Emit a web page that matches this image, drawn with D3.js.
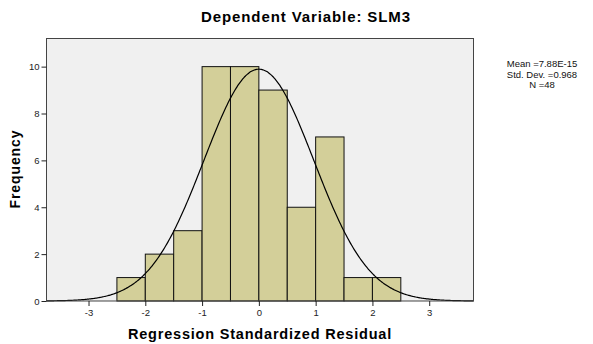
<!DOCTYPE html>
<html>
<head>
<meta charset="utf-8">
<script src="https://cdn.jsdelivr.net/npm/d3@7"></script>
<style>
  body { margin: 0; background: #fff; }
  text { font-family: "Liberation Sans", Arial, sans-serif; }
</style>
</head>
<body>
<div id="chart"></div>
<script>
// histogram bins (lower edge) and counts
var binStarts = [-2.5, -2, -1.5, -1, -0.5, 0, 0.5, 1, 1.5, 2];
var binWidth = 0.5;
var counts = [1, 2, 3, 10, 10, 9, 4, 7, 1, 1];
var xTicks = [-3, -2, -1, 0, 1, 2, 3];
var yTicks = [0, 2, 4, 6, 8, 10];
var statsLines = ["Mean =7.88E-15", "Std. Dev. =0.968", "N =48"];
var mean = 0, sd = 0.968, n = 48;

var W = 593, H = 344;
var plot = {left: 46.5, top: 38.5, right: 473.5, bottom: 301};

var svg = d3.select("#chart").append("svg")
    .attr("width", W)
    .attr("height", H);

var x = d3.scaleLinear().domain([-3.74, 3.78]).range([plot.left, plot.right]);
var y = d3.scaleLinear().domain([0, 11.2]).range([plot.bottom, plot.top]);

// plot background
svg.append("rect")
    .attr("x", plot.left).attr("y", plot.top)
    .attr("width", plot.right - plot.left)
    .attr("height", plot.bottom - plot.top)
    .style("fill", "#f0f0f0");

// bars
svg.selectAll("rect.bar")
    .data(counts)
    .enter().append("rect")
    .attr("class", "bar")
    .attr("x", function (d, i) { return x(binStarts[i]); })
    .attr("width", function (d, i) { return x(binStarts[i] + binWidth) - x(binStarts[i]); })
    .attr("y", function (d) { return y(d); })
    .attr("height", function (d) { return y(0) - y(d); })
    .style("fill", "#d3cf99")
    .style("stroke", "#111")
    .style("stroke-width", 1);

// normal curve from the stated mean / sd / N
var curvePts = d3.range(x.domain()[0], x.domain()[1] + 0.001, 0.02);
var line = d3.line()
    .x(function (d) { return x(d); })
    .y(function (d) {
        var z = (d - mean) / sd;
        return y(n * binWidth * Math.exp(-0.5 * z * z) / (sd * Math.sqrt(2 * Math.PI)));
    })
    .curve(d3.curveBasis);

svg.append("path")
    .datum(curvePts)
    .attr("d", line)
    .style("fill", "none")
    .style("stroke", "#000")
    .style("stroke-width", 1.2);

// frame
svg.append("rect")
    .attr("x", plot.left).attr("y", plot.top)
    .attr("width", plot.right - plot.left)
    .attr("height", plot.bottom - plot.top)
    .style("fill", "none")
    .style("stroke", "#444")
    .style("stroke-width", 1);

// axes (plain hyphen for negatives, like the original)
var xAxis = svg.append("g")
    .attr("transform", "translate(0," + plot.bottom + ")")
    .call(d3.axisBottom(x).tickValues(xTicks).tickSize(5).tickPadding(3)
        .tickFormat(function (d) { return String(d); }));
var yAxis = svg.append("g")
    .attr("transform", "translate(" + plot.left + ",0)")
    .call(d3.axisLeft(y).tickValues(yTicks).tickSize(5).tickPadding(2));

[xAxis, yAxis].forEach(function (g) {
    g.select(".domain").remove();
    g.selectAll(".tick line").style("stroke", "#222");
    g.selectAll(".tick text")
        .style("font-family", "'Liberation Sans', Arial, sans-serif")
        .style("font-size", "9.5px")
        .style("fill", "#222");
});

// title
svg.append("text")
    .attr("x", 306).attr("y", 22)
    .attr("text-anchor", "middle")
    .style("font-size", "15px")
    .style("letter-spacing", "0.9px")
    .style("font-weight", "bold")
    .text("Dependent Variable: SLM3");

// axis titles
svg.append("text")
    .attr("x", 260).attr("y", 339)
    .attr("text-anchor", "middle")
    .style("font-size", "14.5px")
    .style("letter-spacing", "0.8px")
    .style("font-weight", "bold")
    .text("Regression Standardized Residual");

svg.append("text")
    .attr("transform", "translate(20,169) rotate(-90)")
    .attr("text-anchor", "middle")
    .style("font-size", "14px")
    .style("letter-spacing", "0.9px")
    .style("font-weight", "bold")
    .text("Frequency");

// stats box
svg.selectAll("text.stat")
    .data(statsLines)
    .enter().append("text")
    .attr("class", "stat")
    .attr("x", 542)
    .attr("y", function (d, i) { return 67 + i * 10.5; })
    .attr("text-anchor", "middle")
    .style("font-size", "9.5px")
    .style("fill", "#111")
    .text(function (d) { return d; });
</script>
</body>
</html>
